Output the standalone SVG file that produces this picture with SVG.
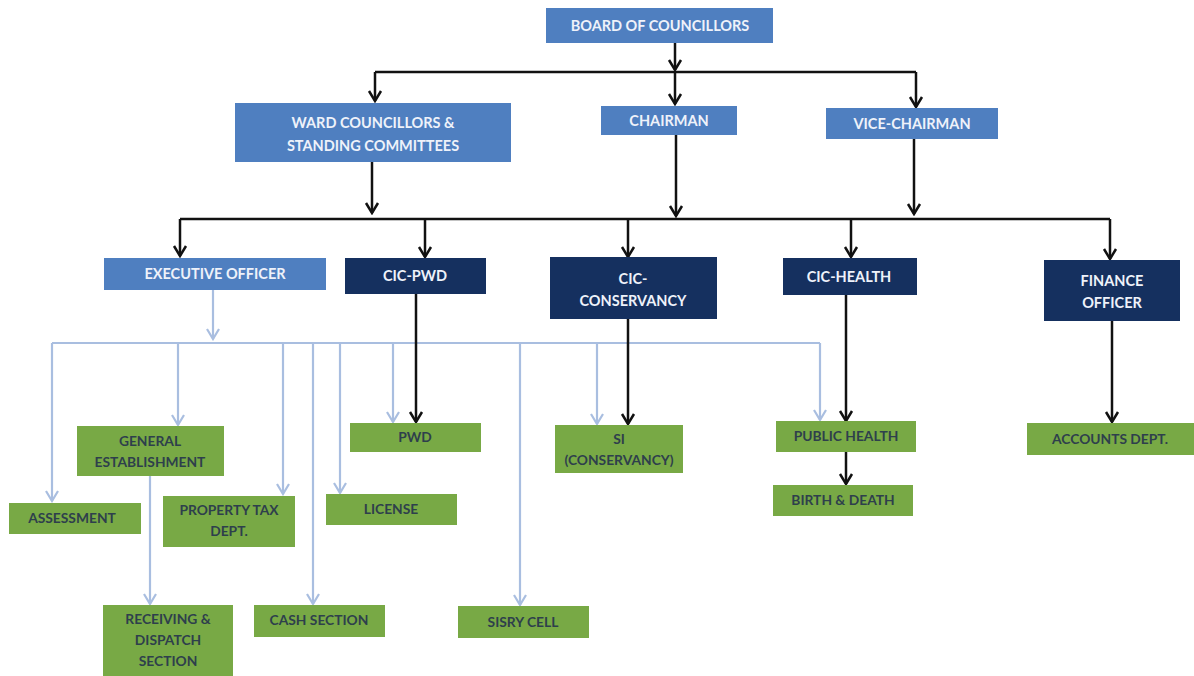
<svg xmlns="http://www.w3.org/2000/svg" width="1194" height="676" viewBox="0 0 1194 676">
<style>
.blue{fill:#4f7fc0}
.navy{fill:#15305f}
.green{fill:#78a945}
.tw{font-family:Lato,"Open Sans",sans-serif;font-weight:bold;font-size:14.5px;fill:#eef2fa;text-anchor:middle}
.tg{font-family:Lato,"Open Sans",sans-serif;font-weight:bold;font-size:13.8px;fill:#2e3f4c;text-anchor:middle}
.bk{stroke:#111;stroke-width:2.5;fill:none}
.lb{stroke:#a9bee0;stroke-width:2.2;fill:none}
</style>
<defs>
<marker id="ab" markerUnits="userSpaceOnUse" markerWidth="14" markerHeight="16" refX="12" refY="8" orient="auto" viewBox="0 0 14 16">
<path d="M2,2 L12,8 L2,14" fill="none" stroke="#111" stroke-width="2.5"/>
</marker>
<marker id="al" markerUnits="userSpaceOnUse" markerWidth="14" markerHeight="16" refX="12" refY="8" orient="auto" viewBox="0 0 14 16">
<path d="M2,2 L12,8 L2,14" fill="none" stroke="#a9bee0" stroke-width="2.2"/>
</marker>
</defs>
<rect width="1194" height="676" fill="#fff"/>
<g id="connectors">
<path class="bk" d="M675,43 V70" marker-end="url(#ab)"/>
<path class="bk" d="M375,72 H916"/>
<path class="bk" d="M375,72 V101" marker-end="url(#ab)"/>
<path class="bk" d="M675,72 V104" marker-end="url(#ab)"/>
<path class="bk" d="M916,72 V107" marker-end="url(#ab)"/>
<path class="bk" d="M372,162 V213" marker-end="url(#ab)"/>
<path class="bk" d="M676,135 V216" marker-end="url(#ab)"/>
<path class="bk" d="M914,139 V214" marker-end="url(#ab)"/>
<path class="bk" d="M180,219 H1110"/>
<path class="bk" d="M180,219 V256" marker-end="url(#ab)"/>
<path class="bk" d="M425,219 V257" marker-end="url(#ab)"/>
<path class="bk" d="M628,219 V257" marker-end="url(#ab)"/>
<path class="bk" d="M851,219 V257" marker-end="url(#ab)"/>
<path class="bk" d="M1110,219 V259" marker-end="url(#ab)"/>
<path class="lb" d="M213,290 V339" marker-end="url(#al)"/>
<path class="lb" d="M52,343 H820"/>
<path class="lb" d="M52,343 V501" marker-end="url(#al)"/>
<path class="lb" d="M178,343 V425" marker-end="url(#al)"/>
<path class="lb" d="M283,343 V494" marker-end="url(#al)"/>
<path class="lb" d="M313,343 V604" marker-end="url(#al)"/>
<path class="lb" d="M340,343 V493" marker-end="url(#al)"/>
<path class="lb" d="M393,343 V422" marker-end="url(#al)"/>
<path class="lb" d="M520,343 V605" marker-end="url(#al)"/>
<path class="lb" d="M597,343 V424" marker-end="url(#al)"/>
<path class="lb" d="M820,343 V420" marker-end="url(#al)"/>
<path class="lb" d="M150,476 V604" marker-end="url(#al)"/>
<path class="bk" d="M416,294 V422" marker-end="url(#ab)"/>
<path class="bk" d="M628,319 V424" marker-end="url(#ab)"/>
<path class="bk" d="M846,295 V421" marker-end="url(#ab)"/>
<path class="bk" d="M846,452 V484" marker-end="url(#ab)"/>
<path class="bk" d="M1112,321 V422" marker-end="url(#ab)"/>
</g>
<g id="board"><rect class="blue" x="546" y="8" width="227" height="35"/><text class="tw" x="660" y="31">BOARD OF COUNCILLORS</text></g>
<g id="ward"><rect class="blue" x="235" y="103" width="276" height="59"/><text class="tw" x="373" y="128">WARD COUNCILLORS &amp;</text><text class="tw" x="373" y="151">STANDING COMMITTEES</text></g>
<g id="chairman"><rect class="blue" x="601" y="106" width="136" height="29"/><text class="tw" x="669" y="126">CHAIRMAN</text></g>
<g id="vicechairman"><rect class="blue" x="826" y="108" width="172" height="31"/><text class="tw" x="912" y="129">VICE-CHAIRMAN</text></g>
<g id="exec"><rect class="blue" x="104" y="258" width="222" height="32"/><text class="tw" x="215" y="279">EXECUTIVE OFFICER</text></g>
<g id="cicpwd"><rect class="navy" x="345" y="258" width="141" height="36"/><text class="tw" x="415" y="281">CIC-PWD</text></g>
<g id="ciccons"><rect class="navy" x="550" y="257" width="167" height="62"/><text class="tw" x="633" y="284">CIC-</text><text class="tw" x="633" y="306">CONSERVANCY</text></g>
<g id="cichealth"><rect class="navy" x="783" y="258" width="134" height="37"/><text class="tw" x="849" y="282">CIC-HEALTH</text></g>
<g id="finance"><rect class="navy" x="1044" y="260" width="136" height="61"/><text class="tw" x="1112" y="286">FINANCE</text><text class="tw" x="1112" y="308">OFFICER</text></g>
<g id="genest"><rect class="green" x="77" y="426" width="147" height="50"/><text class="tg" x="150" y="446">GENERAL</text><text class="tg" x="150" y="467">ESTABLISHMENT</text></g>
<g id="pwd"><rect class="green" x="350" y="423" width="131" height="29"/><text class="tg" x="415" y="442">PWD</text></g>
<g id="si"><rect class="green" x="555" y="425" width="128" height="48"/><text class="tg" x="619" y="444">SI</text><text class="tg" x="619" y="465">(CONSERVANCY)</text></g>
<g id="publichealth"><rect class="green" x="776" y="421" width="140" height="31"/><text class="tg" x="846" y="441">PUBLIC HEALTH</text></g>
<g id="birthdeath"><rect class="green" x="773" y="485" width="140" height="31"/><text class="tg" x="843" y="505">BIRTH &amp; DEATH</text></g>
<g id="accounts"><rect class="green" x="1027" y="423" width="167" height="32"/><text class="tg" x="1110" y="444">ACCOUNTS DEPT.</text></g>
<g id="assessment"><rect class="green" x="9" y="503" width="132" height="31"/><text class="tg" x="72" y="523">ASSESSMENT</text></g>
<g id="proptax"><rect class="green" x="163" y="496" width="132" height="51"/><text class="tg" x="229" y="515">PROPERTY TAX</text><text class="tg" x="229" y="536">DEPT.</text></g>
<g id="license"><rect class="green" x="326" y="494" width="131" height="31"/><text class="tg" x="391" y="514">LICENSE</text></g>
<g id="receiving"><rect class="green" x="103" y="605" width="130" height="71"/><text class="tg" x="168" y="624">RECEIVING &amp;</text><text class="tg" x="168" y="645">DISPATCH</text><text class="tg" x="168" y="666">SECTION</text></g>
<g id="cash"><rect class="green" x="254" y="605" width="131" height="32"/><text class="tg" x="319" y="625">CASH SECTION</text></g>
<g id="sisry"><rect class="green" x="458" y="606" width="131" height="32"/><text class="tg" x="523" y="627">SISRY CELL</text></g>
</svg>
